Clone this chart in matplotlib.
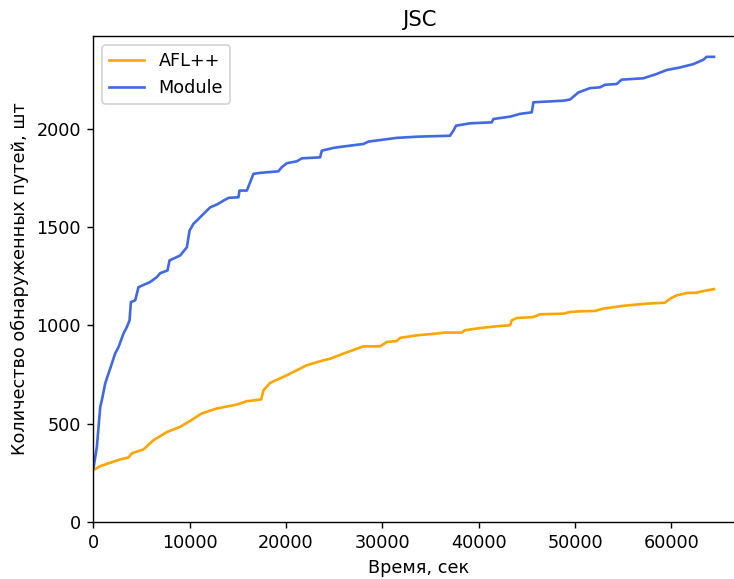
import matplotlib
matplotlib.use("Agg")
import matplotlib.pyplot as plt

# AFL++ path count over time
afl_time = [30, 730, 1760, 2800, 3660, 4010, 5220, 6260, 7640, 9025, 10060,
            11270, 12830, 14900, 15940, 17430, 17670, 18360, 20090, 22160,
            23890, 24590, 25960, 28040, 29770, 30460, 31500, 31850, 33580,
            35650, 36510, 38240, 38590, 40140, 41870, 43260, 43430, 43950,
            45680, 46370, 48790, 49480, 50520, 52070, 52940, 55360, 57440,
            59340, 59850, 60550, 61590, 62620, 63310, 64420]
afl_paths = [264, 284, 301, 318, 328, 349, 369, 416, 457, 484, 514,
             552, 577, 597, 614, 623, 670, 707, 746, 797,
             822, 830, 856, 893, 893, 915, 920, 936, 949,
             958, 963, 963, 975, 986, 995, 1000, 1025, 1037,
             1042, 1056, 1059, 1068, 1071, 1073, 1085, 1101, 1110,
             1115, 1135, 1152, 1164, 1166, 1174, 1184]

# Module path count over time
mod_time = [30, 380, 730, 900, 1245, 1760, 2280, 2630, 3150, 3490, 3770,
            3910, 4360, 4700, 5910, 6600, 6950, 7710, 7920, 9025, 9720,
            10000, 10400, 10760, 12140, 12830, 13520, 14040, 15070, 15180,
            15940, 16630, 17320, 19220, 19570, 20090, 21130, 21650, 23550,
            23720, 24930, 25620, 28040, 28560, 31500, 33580, 37030, 37380,
            37650, 39110, 41360, 41530, 43260, 44290, 45510, 45680, 48790,
            49480, 50350, 51560, 52590, 53110, 54320, 54840, 57080, 58470,
            59510, 60890, 62270, 63310, 63650, 64420]
mod_paths = [274, 382, 585, 620, 705, 780, 857, 890, 959, 991, 1025,
             1118, 1127, 1194, 1220, 1245, 1265, 1279, 1330, 1355, 1397,
             1482, 1516, 1533, 1600, 1614, 1634, 1648, 1651, 1685,
             1685, 1770, 1775, 1783, 1804, 1824, 1834, 1849, 1854,
             1888, 1902, 1907, 1922, 1934, 1953, 1959, 1964, 1990,
             2015, 2027, 2032, 2049, 2061, 2075, 2083, 2134, 2142,
             2148, 2184, 2206, 2210, 2223, 2227, 2249, 2256, 2278,
             2298, 2311, 2328, 2350, 2365, 2365]

DPI = 127
fig = plt.figure(figsize=(734 / DPI, 579 / DPI), dpi=DPI)
ax = fig.add_axes([0.127, 0.0985, 0.888, 0.839])

ax.plot(afl_time, afl_paths, color="orange", label="AFL++")
ax.plot(mod_time, mod_paths, color="royalblue", label="Module")

ax.set_xlim(left=0)
ax.set_ylim(bottom=0)
ax.set_title("JSC")
ax.set_xlabel("Время, сек")
ax.set_ylabel("Количество обнаруженных путей, шт")
ax.legend(loc="upper left")

fig.savefig("out.png", dpi=DPI)
